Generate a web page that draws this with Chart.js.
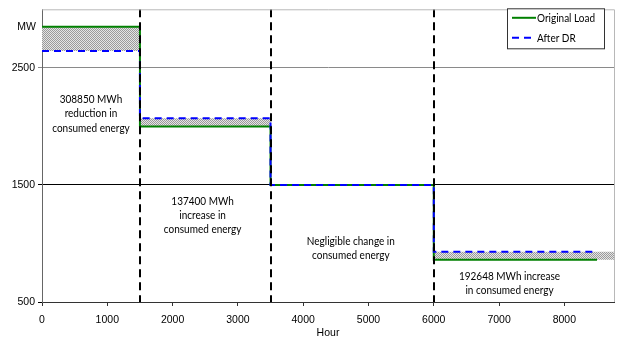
<!DOCTYPE html>
<html>
<head>
<meta charset="utf-8">
<script src="https://cdn.jsdelivr.net/npm/chart.js@4.4.0/dist/chart.umd.min.js"></script>
<style>
body{margin:0;background:#fff;}
</style>
</head>
<body>
<canvas id="myChart" width="629" height="347"></canvas>
<script>
// step load profile, one value per period start
const hours = [0, 1500, 3500, 6000, 8500];
const originalLoad = [2850, 2000, 1500, 860, 860];
const afterDR = [2644, 2069, 1500, 930, 930];
const hourMax = 8760;

const xTicks = [0, 1000, 2000, 3000, 4000, 5000, 6000, 7000, 8000];
const yTicks = [500, 1500, 2500];
const dividers = [1500, 3500, 6000];

const notes = [
    {x: 750, y: 2229, lines: ['308850 MWh', 'reduction in', 'consumed energy']},
    {x: 2460, y: 1364, lines: ['137400 MWh', 'increase in', 'consumed energy']},
    {x: 4730, y: 1019, lines: ['Negligible change in', 'consumed energy']},
    {x: 7160, y: 723, lines: ['192648 MWh increase', 'in consumed energy']}
];

const AXIS_FONT = "'Liberation Sans', Arial, sans-serif";
const NOTE_FONT = "Lato, 'Liberation Sans', sans-serif";
const SQUEEZE = 0.87;

function toPoints(xs, ys){
    return xs.map((h, i) => ({x: h, y: ys[i]}));
}

// fill runs to the end of the year, lines stop a bit earlier
const fillHours = hours.slice(0, -1).concat([hourMax]);

function makeHatch(){
    const c = document.createElement('canvas');
    c.width = 2; c.height = 2;
    const g = c.getContext('2d');
    g.fillStyle = '#e4e4e4';
    g.fillRect(0, 0, 2, 2);
    g.fillStyle = '#9a9a9a';
    g.fillRect(0, 0, 1, 1);
    g.fillRect(1, 1, 1, 1);
    return document.getElementById('myChart').getContext('2d').createPattern(c, 'repeat');
}

// narrow text like the original, drawn squeezed sideways
function squeezedText(ctx, text, x, y, align){
    ctx.save();
    ctx.translate(x, y);
    ctx.scale(SQUEEZE, 1);
    ctx.textAlign = align;
    ctx.fillText(text, 0, 0);
    ctx.restore();
}

const extras = {
    id: 'extras',
    afterDatasetsDraw(chart){
        const {ctx, chartArea, scales} = chart;
        ctx.save();
        ctx.strokeStyle = '#000';
        ctx.lineWidth = 2;
        ctx.setLineDash([8, 5]);
        dividers.forEach(h => {
            const px = Math.round(scales.x.getPixelForValue(h));
            ctx.beginPath();
            ctx.moveTo(px, chartArea.top);
            ctx.lineTo(px, chartArea.bottom);
            ctx.stroke();
        });
        ctx.restore();
    },
    afterDraw(chart){
        const {ctx, chartArea, scales} = chart;
        ctx.save();
        // plot frame top and right
        ctx.strokeStyle = '#b8b8b8';
        ctx.lineWidth = 1;
        ctx.beginPath();
        ctx.moveTo(chartArea.left, chartArea.top + 0.5);
        ctx.lineTo(chartArea.right + 0.5, chartArea.top + 0.5);
        ctx.lineTo(chartArea.right + 0.5, chartArea.bottom);
        ctx.stroke();

        // notes
        ctx.fillStyle = '#000';
        ctx.font = '11.5px ' + NOTE_FONT;
        ctx.textBaseline = 'middle';
        notes.forEach(n => {
            const px = scales.x.getPixelForValue(n.x);
            const py = scales.y.getPixelForValue(n.y);
            n.lines.forEach((t, i) => squeezedText(ctx, t, px, py + i * 14.2, 'center'));
        });

        // unit label
        ctx.font = '10.5px ' + AXIS_FONT;
        ctx.textAlign = 'right';
        ctx.fillText('MW', chartArea.left - 6, scales.y.getPixelForValue(2850));

        // legend box
        const bx = chartArea.right - 107, by = chartArea.top - 1, bw = 97, bh = 40;
        ctx.fillStyle = '#fff';
        ctx.fillRect(bx, by, bw, bh);
        ctx.strokeStyle = '#333';
        ctx.lineWidth = 1;
        ctx.strokeRect(bx + 0.5, by + 0.5, bw, bh);
        const items = [chart.data.datasets[0], chart.data.datasets[1]];
        items.forEach((ds, i) => {
            const ly = by + 9.5 + i * 20;
            ctx.strokeStyle = ds.borderColor;
            ctx.lineWidth = 2;
            ctx.setLineDash(ds.borderDash || []);
            ctx.beginPath();
            ctx.moveTo(bx + 5, ly);
            ctx.lineTo(bx + 29, ly);
            ctx.stroke();
            ctx.setLineDash([]);
            ctx.fillStyle = '#000';
            ctx.font = '11.5px ' + NOTE_FONT;
            squeezedText(ctx, ds.label, bx + 30, ly, 'left');
        });
        ctx.restore();
    }
};

const hatch = makeHatch();

new Chart(document.getElementById('myChart'), {
    type: 'line',
    data: {
        datasets: [
            {
                label: 'Original Load',
                data: toPoints(hours, originalLoad),
                borderColor: '#008000',
                borderWidth: 2,
                stepped: true,
                pointRadius: 0,
                fill: false,
                order: 2
            },
            {
                label: 'After DR',
                data: toPoints(hours, afterDR),
                borderColor: '#0000ff',
                borderWidth: 2,
                borderDash: [7, 5],
                stepped: true,
                pointRadius: 0,
                fill: false,
                order: 1
            },
            {
                label: 'fillOrig',
                data: toPoints(fillHours, originalLoad),
                borderWidth: 0,
                borderColor: 'rgba(0,0,0,0)',
                stepped: true,
                pointRadius: 0,
                fill: false,
                order: 3
            },
            {
                label: 'fillAfter',
                data: toPoints(fillHours, afterDR),
                borderWidth: 0,
                borderColor: 'rgba(0,0,0,0)',
                backgroundColor: hatch,
                stepped: true,
                pointRadius: 0,
                fill: '-1',
                order: 3
            }
        ]
    },
    options: {
        responsive: false,
        animation: false,
        layout: {padding: {top: 7, right: 15, left: 0, bottom: 0}},
        plugins: {
            legend: {display: false},
            tooltip: {enabled: false}
        },
        scales: {
            x: {
                type: 'linear',
                min: 0,
                max: hourMax,
                afterBuildTicks: s => { s.ticks = xTicks.map(v => ({value: v})); },
                afterFit: s => { s.height = 45; },
                grid: {drawOnChartArea: false, tickLength: 4, color: '#333'},
                border: {color: '#333', width: 1},
                ticks: {font: {family: AXIS_FONT, size: 10.5}, color: '#000', padding: 8, maxRotation: 0, autoSkip: false,
                        callback: v => String(v)},
                title: {display: true, text: 'Hour', font: {family: AXIS_FONT, size: 10.5}, color: '#000', padding: {top: 0, bottom: 8}}
            },
            y: {
                type: 'linear',
                min: 500,
                max: 3000,
                afterBuildTicks: s => { s.ticks = yTicks.map(v => ({value: v})); },
                afterFit: s => { s.width = 42; },
                grid: {
                    tickLength: 4,
                    color: c => c.tick && c.tick.value === 2500 ? '#8a8a8a' : '#000'
                },
                border: {color: '#666', width: 1},
                ticks: {font: {family: AXIS_FONT, size: 10.5}, color: '#000', padding: 3, callback: v => String(v)}
            }
        }
    },
    plugins: [extras]
});
</script>
</body>
</html>
